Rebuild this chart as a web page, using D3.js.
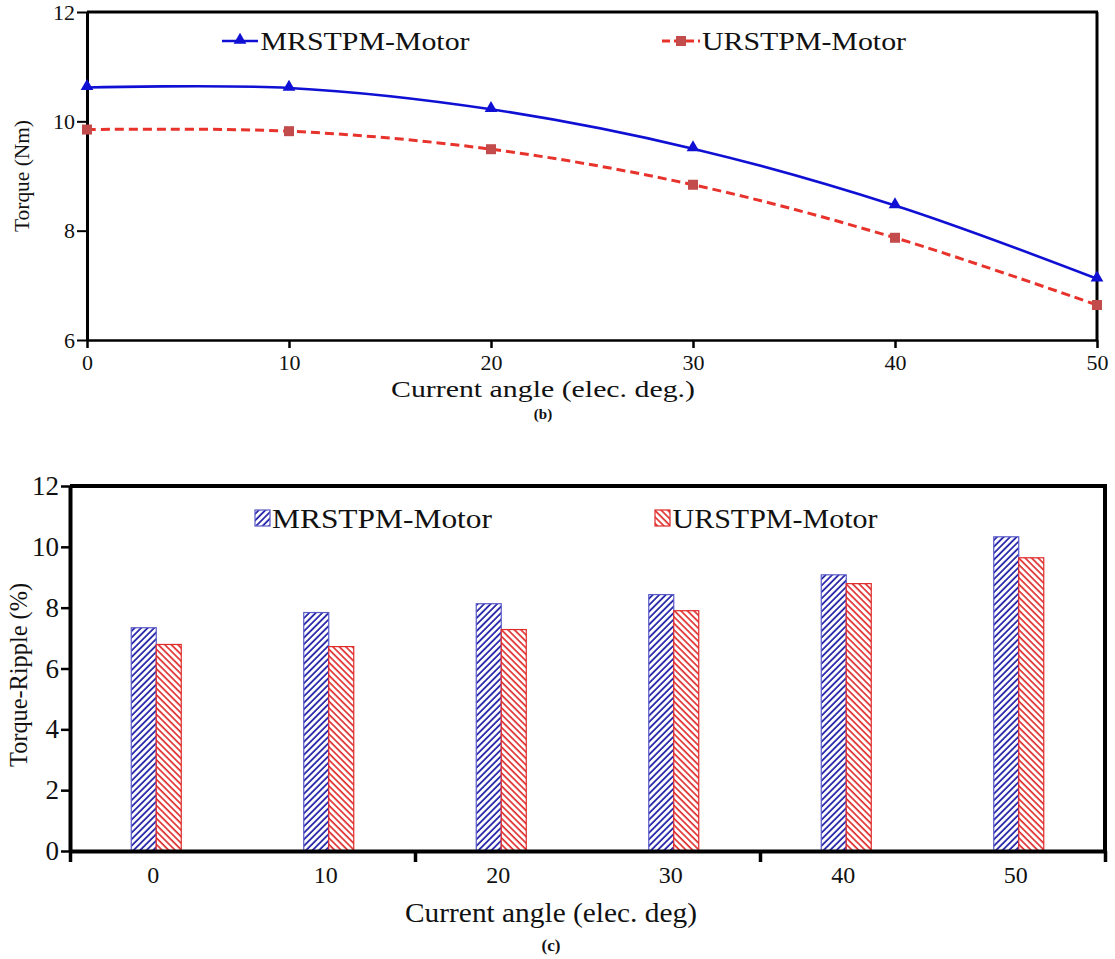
<!DOCTYPE html>
<html><head><meta charset="utf-8">
<script src="https://cdn.jsdelivr.net/npm/d3@7"></script>
<style>
body{margin:0;background:#fff;}
svg text{font-family:"Liberation Serif","Times New Roman",serif !important;}
</style></head>
<body>
<svg id="c" width="1115" height="959"></svg>
<script>
// ---------- data ----------
const angles = [0, 10, 20, 30, 40, 50];
const seriesNames = ["MRSTPM-Motor", "URSTPM-Motor"];
const torqueMR = [10.62, 10.61, 10.22, 9.50, 8.46, 7.12];
const torqueUR = [9.85, 9.82, 9.49, 8.84, 7.87, 6.64];
const rippleMR = [7.34, 7.84, 8.13, 8.43, 9.08, 10.33];
const rippleUR = [6.79, 6.72, 7.28, 7.90, 8.79, 9.64];
const torqueTicks = [6, 8, 10, 12];
const rippleTicks = [0, 2, 4, 6, 8, 10, 12];
const angleLabels = ["0", "10", "20", "30", "40", "50"];

const svg = d3.select("#c");
const blue = "#1010d4", red = "#e8322c", redMark = "#c24b4b";
const hatchBlue = "#1a1aa6", hatchRed = "#e0302e";
const ink = "#111";

// ---------- patterns ----------
const defs = svg.append("defs");
function hatch(id, color, rot){
  const p = defs.append("pattern").attr("id", id).attr("patternUnits","userSpaceOnUse")
    .attr("width", 4.6).attr("height", 4.6).attr("patternTransform", `rotate(${rot})`);
  p.append("rect").attr("width",4.6).attr("height",4.6).attr("fill","#fff");
  p.append("line").attr("x1",1).attr("y1",0).attr("x2",1).attr("y2",4.6)
    .attr("stroke", color).attr("stroke-width", 1.7);
}
hatch("hb", hatchBlue, 45);
hatch("hr", hatchRed, -45);

function label(g, x, y, txt, size, len, opts={}){
  const t = g.append("text").attr("text-anchor","middle").attr("font-size",size).attr("fill",ink).text(txt);
  if (opts.rotate) t.attr("transform",`translate(${x},${y}) rotate(-90)`); else t.attr("x",x).attr("y",y);
  if (len) t.attr("textLength",len).attr("lengthAdjust","spacingAndGlyphs");
  if (opts.bold) t.attr("font-weight","bold");
  return t;
}

// ================= TOP CHART (b) =================
const T = {l:87, r:1097, t:12, b:340};
const xT = d3.scaleLinear().domain([0,50]).range([T.l, T.r]);
const yT = d3.scaleLinear().domain([6,12]).range([T.b, T.t]);
const gT = svg.append("g");

gT.append("line").attr("x1",T.l).attr("x2",T.r+1).attr("y1",T.t).attr("y2",T.t).attr("stroke","#000").attr("stroke-width",3);
gT.append("line").attr("x1",T.r).attr("x2",T.r).attr("y1",T.t).attr("y2",T.b).attr("stroke","#000").attr("stroke-width",3);

const axL = gT.append("g").attr("transform",`translate(${T.l},0)`)
  .call(d3.axisLeft(yT).tickValues(torqueTicks).tickFormat(d3.format("d")).tickSize(10).tickSizeOuter(0).tickPadding(2));
axL.select(".domain").attr("stroke-width",3);
axL.selectAll(".tick line").attr("stroke-width",2);
axL.selectAll("text").attr("font-size",22).attr("fill",ink);

const axB = gT.append("g").attr("transform",`translate(0,${T.b})`)
  .call(d3.axisBottom(xT).tickValues(angles).tickFormat((d,i)=>angleLabels[i]).tickSize(8).tickSizeOuter(0).tickPadding(6));
axB.select(".domain").attr("stroke-width",2.5);
axB.selectAll(".tick line").attr("stroke-width",2.5);
axB.selectAll("text").attr("font-size",22).attr("fill",ink);

label(gT, 29, 176, "Torque (Nm)", 21, 112, {rotate:true});
label(gT, 543, 397, "Current angle (elec. deg.)", 24, 304);
label(gT, 543, 419, "(b)", 15, null, {bold:true});

const line = d3.line().x((d,i)=>xT(angles[i])).y(d=>yT(d)).curve(d3.curveCatmullRom.alpha(0.5));
gT.append("path").attr("d", line(torqueMR)).attr("fill","none").attr("stroke",blue).attr("stroke-width",2.6);
gT.append("path").attr("d", line(torqueUR)).attr("fill","none").attr("stroke",red).attr("stroke-width",3).attr("stroke-dasharray","9,5");

const tri = d3.symbol().type(d3.symbolTriangle).size(70);
gT.selectAll(".mr").data(torqueMR).join("path").attr("class","mr")
  .attr("transform",(d,i)=>`translate(${xT(angles[i])},${yT(d)-1})`).attr("d",tri).attr("fill",blue);
gT.selectAll(".ur").data(torqueUR).join("rect").attr("class","ur")
  .attr("x",(d,i)=>xT(angles[i])-5).attr("y",d=>yT(d)-5).attr("width",10).attr("height",10).attr("fill",redMark);

// top legend
const lgT = gT.append("g");
lgT.append("line").attr("x1",222).attr("x2",258).attr("y1",41).attr("y2",41).attr("stroke",blue).attr("stroke-width",2.6);
lgT.append("path").attr("transform","translate(240,40)").attr("d",tri).attr("fill",blue);
label(lgT, 261+104, 50, seriesNames[0], 26, 209);
lgT.append("line").attr("x1",662).attr("x2",700).attr("y1",41).attr("y2",41).attr("stroke",red).attr("stroke-width",3).attr("stroke-dasharray","8,4");
lgT.append("rect").attr("x",676).attr("y",36).attr("width",10).attr("height",10).attr("fill",redMark);
label(lgT, 702+102, 50, seriesNames[1], 26, 204);

// ================= BOTTOM CHART (c) =================
const B = {l:70, r:1105, t:486, b:851};
const xB = d3.scaleBand().domain(angleLabels).range([B.l, B.r]).padding(0);
const xEdge = d3.scaleLinear().domain([0,6]).range([B.l, B.r]);
const yB = d3.scaleLinear().domain([0,12]).range([B.b, B.t]);
const xS = d3.scaleBand().domain(seriesNames).range([-25, 25]);
const gB = svg.append("g");

gB.append("line").attr("x1",B.l).attr("x2",B.r+2).attr("y1",B.t).attr("y2",B.t).attr("stroke","#000").attr("stroke-width",4);
gB.append("line").attr("x1",B.r).attr("x2",B.r).attr("y1",B.t).attr("y2",B.b).attr("stroke","#000").attr("stroke-width",4);

const rows = angleLabels.map((a,i)=>({a, v:[rippleMR[i], rippleUR[i]]}));
const grp = gB.selectAll(".grp").data(rows).join("g").attr("class","grp")
  .attr("transform",d=>`translate(${xB(d.a)+xB.bandwidth()/2},0)`);
grp.selectAll("rect").data(d=>d.v.map((v,j)=>({s:seriesNames[j], v, j}))).join("rect")
  .attr("x",d=>xS(d.s)).attr("width",xS.bandwidth())
  .attr("y",d=>yB(d.v)).attr("height",d=>yB(0)-yB(d.v))
  .attr("fill",d=>d.j===0?"url(#hb)":"url(#hr)")
  .attr("stroke",d=>d.j===0?"#5a5ac8":"#e02a2a").attr("stroke-width",1.2);

const ayL = gB.append("g").attr("transform",`translate(${B.l},0)`)
  .call(d3.axisLeft(yB).tickValues(rippleTicks).tickFormat(d3.format("d")).tickSize(9).tickSizeOuter(0).tickPadding(2));
ayL.select(".domain").attr("stroke-width",4);
ayL.selectAll(".tick line").attr("stroke-width",2.5);
ayL.selectAll("text").attr("font-size",27).attr("fill",ink);

const axE = gB.append("g").attr("transform",`translate(0,${B.b})`)
  .call(d3.axisBottom(xEdge).tickValues([0,2,4,6]).tickFormat("").tickSize(11).tickSizeOuter(0));
axE.select(".domain").attr("stroke-width",4);
axE.selectAll(".tick line").attr("stroke-width",3.5);
const axC = gB.append("g").attr("transform",`translate(0,${B.b})`)
  .call(d3.axisBottom(xB).tickSize(0).tickPadding(15));
axC.select(".domain").remove();
axC.selectAll("text").attr("font-size",24).attr("fill",ink).attr("dx",-3);

label(gB, 27, 675, "Torque-Ripple (%)", 25, 184, {rotate:true});
label(gB, 551, 922, "Current angle (elec. deg)", 27, 292);
label(gB, 551, 951, "(c)", 17, null, {bold:true});

// bottom legend
const lgB = gB.append("g");
lgB.append("rect").attr("x",255).attr("y",510).attr("width",15).attr("height",16).attr("fill","url(#hb)").attr("stroke","#5a5ac8").attr("stroke-width",1.2);
label(lgB, 272+110, 528, seriesNames[0], 28, 220);
lgB.append("rect").attr("x",655).attr("y",510).attr("width",15).attr("height",16).attr("fill","url(#hr)").attr("stroke","#e02a2a").attr("stroke-width",1.2);
label(lgB, 672+103, 528, seriesNames[1], 28, 205);
</script>
</body></html>
